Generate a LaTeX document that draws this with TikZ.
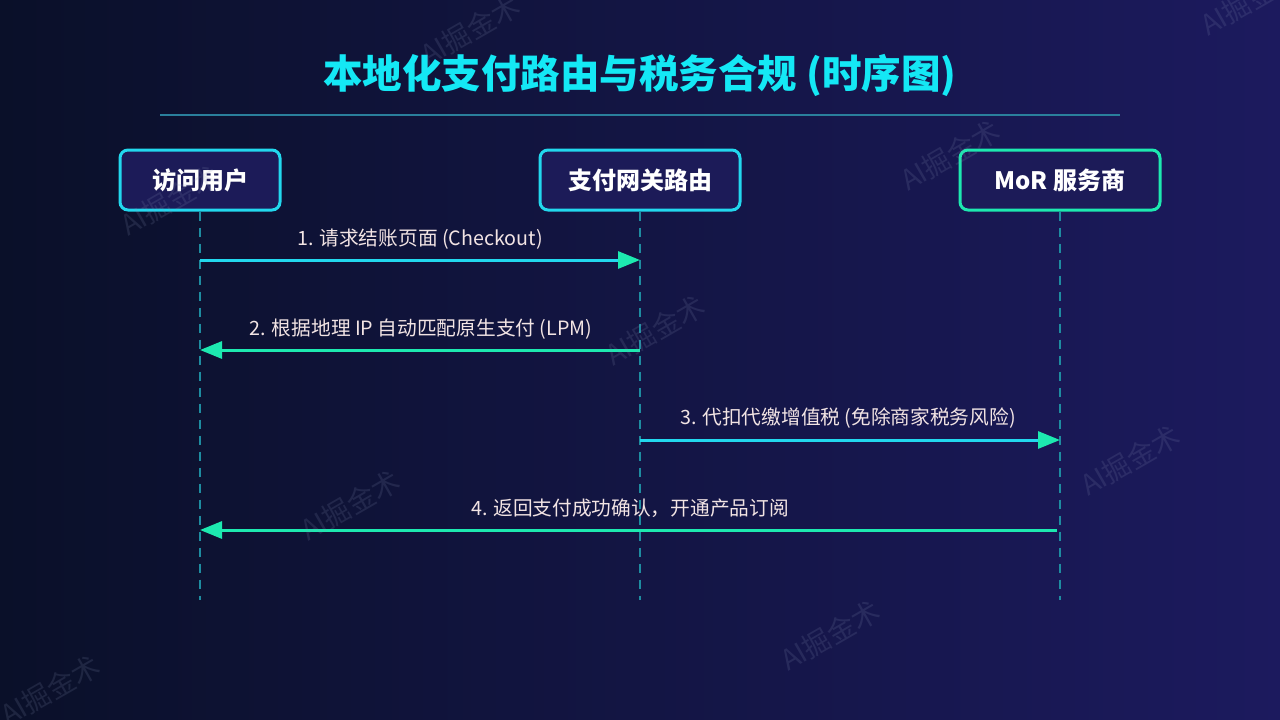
\documentclass[tikz,border=0pt]{standalone}
\usepackage{fontspec}
\setmainfont{Noto Sans CJK SC}
\usetikzlibrary{arrows.meta}
\definecolor{bgL}{HTML}{0A1029}
\definecolor{bgR}{HTML}{1C1A5E}
\definecolor{boxfill}{HTML}{1C1B58}
\definecolor{cyanc}{HTML}{22D8EE}
\definecolor{mint}{HTML}{1DE9B0}
\definecolor{titlec}{HTML}{14E8F5}
\definecolor{lifec}{HTML}{1E8CA0}
\definecolor{sepc}{HTML}{2A7F9C}
\definecolor{labc}{HTML}{F2E4E4}
\definecolor{wmc}{HTML}{8A94B8}
\tikzset{
  actor/.style={draw=#1, line width=3pt, fill=boxfill, rounded corners=8pt,
    minimum height=60pt, text=white, font=\fontsize{24}{27}\selectfont\bfseries},
  lifeline/.style={draw=lifec, line width=1.6pt, dash pattern=on 9pt off 7pt},
  msg/.style={line width=3pt, -{Triangle[length=22pt,width=17pt,color=mint]}},
  msglabel/.style={text=labc, font=\fontsize{19.7}{22}\selectfont},
  wm/.style={text=wmc, text opacity=0.16, rotate=30, font=\fontsize{28}{30}\selectfont}
}
\begin{document}
\begin{tikzpicture}[x=1pt,y=-1pt]
\useasboundingbox (0,0) rectangle (1280,720);
\shade[left color=bgL, right color=bgR] (0,0) rectangle (1280,720);
% title
\node[text=titlec, font=\fontsize{39.5}{44}\selectfont\bfseries] (title) at (640,75) {本地化支付路由与税务合规 (时序图)};
\coordinate (sepL) at (160,115);
\coordinate (sepR) at (1120,115);
\draw[sepc, line width=1.5pt] (sepL) -- (sepR);
% actors
\node[actor=cyanc, minimum width=160pt] (user) at (200,180) {访问用户};
\node[actor=cyanc, minimum width=200pt] (gw) at (640,180) {支付网关路由};
\node[actor=mint, minimum width=200pt] (mor) at (1060,180) {MoR 服务商};
% lifeline ends
\coordinate (uEnd) at (200,600);
\coordinate (gEnd) at (640,600);
\coordinate (mEnd) at (1060,600);
\draw[lifeline] (user.south) -- (uEnd);
\draw[lifeline] (gw.south) -- (gEnd);
\draw[lifeline] (mor.south) -- (mEnd);
% message points
\coordinate (u1) at (200,260); \coordinate (g1) at (640,260);
\coordinate (u2) at (200,350); \coordinate (g2) at (640,350);
\coordinate (g3) at (640,440); \coordinate (m3) at (1060,440);
\coordinate (u4) at (200,530); \coordinate (m4) at (1057,530);
\draw[msg, cyanc] (u1) -- (g1);
\draw[msg, mint] (g2) -- (u2);
\draw[msg, cyanc] (g3) -- (m3);
\draw[msg, mint] (m4) -- (u4);
\node[msglabel] (l1) at (420,239) {1. 请求结账页面 (Checkout)};
\node[msglabel] (l2) at (421,329) {2. 根据地理 IP 自动匹配原生支付 (LPM)};
\node[msglabel] (l3) at (848,418) {3. 代扣代缴增值税 (免除商家税务风险)};
\node[msglabel] (l4) at (630,508) {4. 返回支付成功确认，开通产品订阅};
% watermarks
\node[wm] (w1) at (470,30) {AI掘金术};
\node[wm] (w2) at (170,200) {AI掘金术};
\node[wm] (w3) at (950,155) {AI掘金术};
\node[wm] (w4) at (655,330) {AI掘金术};
\node[wm] (w5) at (350,505) {AI掘金术};
\node[wm] (w6) at (1130,460) {AI掘金术};
\node[wm] (w7) at (830,635) {AI掘金术};
\node[wm] (w8) at (50,690) {AI掘金术};
\node[wm] (w9) at (1250,0) {AI掘金术};
\end{tikzpicture}
\end{document}
